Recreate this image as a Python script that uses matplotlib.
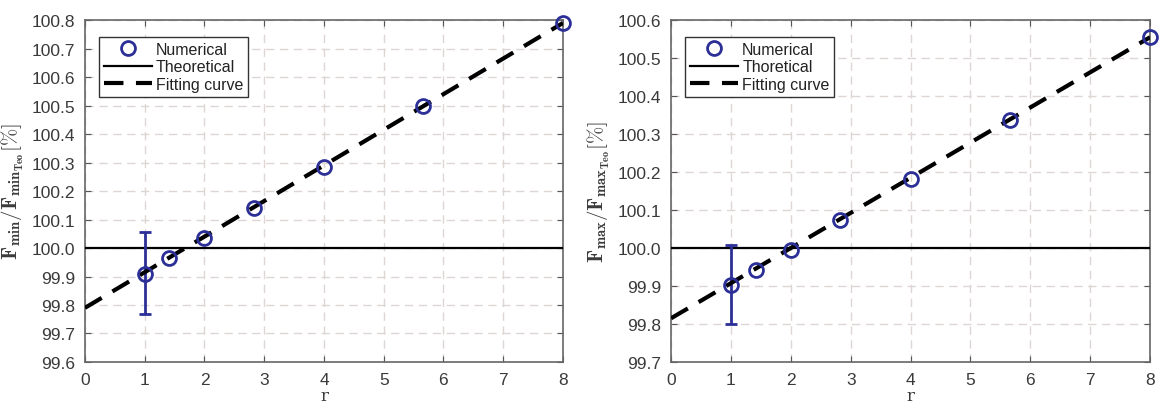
import numpy as np
import matplotlib
matplotlib.use("Agg")
import matplotlib.pyplot as plt

plt.rcParams['font.family'] = ['Liberation Sans', 'DejaVu Sans']
plt.rcParams['mathtext.fontset'] = 'cm'
plt.rcParams['lines.scale_dashes'] = False

# shared x positions of the numerical points
r = [1, 1.414, 2, 2.828, 4, 5.657, 8]

# left panel (F_min)
fmin_num = [99.91, 99.965, 100.035, 100.14, 100.285, 100.50, 100.79]
fmin_err_lo = 0.14
fmin_err_hi = 0.145
fmin_fit_x = [0, 8]
fmin_fit_y = [99.79, 100.79]

# right panel (F_max)
fmax_num = [99.903, 99.943, 99.995, 100.073, 100.182, 100.338, 100.555]
fmax_err_lo = 0.103
fmax_err_hi = 0.105
fmax_fit_x = [0, 8]
fmax_fit_y = [99.815, 100.555]

BLUE = '#2b2f96'
TXT = '#3a3a3a'
GRID = '#ddd6d3'


def draw_panel(ax, num, err_lo, err_hi, fit_x, fit_y, ylim, yticks, ylabel, theo_label):
    ax.errorbar([r[0]], [num[0]], yerr=[[err_lo], [err_hi]], fmt='none',
                ecolor=BLUE, elinewidth=2, capsize=4, capthick=2, zorder=4)
    ax.plot(r, num, 'o', mfc='none', mec=BLUE, mew=2, ms=10,
            label='Numerical', zorder=5, clip_on=False)
    ax.axhline(100.0, color='black', lw=1.6, label=theo_label, zorder=3)
    ax.plot(fit_x, fit_y, color='black', lw=3, dashes=(14, 9),
            label='Fitting curve', zorder=4)

    ax.set_xlim(0, 8)
    ax.set_ylim(*ylim)
    ax.set_xticks(range(9))
    ax.set_yticks(yticks)
    ax.set_yticklabels(['%.1f' % v for v in yticks])
    ax.grid(True, color=GRID, ls=(0, (6, 4)), lw=1)
    ax.set_axisbelow(True)
    ax.tick_params(direction='in', top=True, right=True, labelsize=12.5,
                   colors='#555555', labelcolor=TXT, length=4, pad=7)
    for s in ax.spines.values():
        s.set_color('#666666')
        s.set_linewidth(1.2)
    ax.set_xlabel('r', fontsize=12, color=TXT, labelpad=0, family='DejaVu Serif')
    ax.set_ylabel(ylabel, fontsize=15, color=TXT, labelpad=4)

    leg = ax.legend(loc='upper left', bbox_to_anchor=(0.03, 0.95), fontsize=11.5,
                    fancybox=False, framealpha=1, edgecolor='#333333',
                    handlelength=3.0, handletextpad=0.25, borderpad=0.3,
                    labelspacing=0.15, borderaxespad=0)
    leg.get_frame().set_linewidth(1.0)
    for t in leg.get_texts():
        t.set_color('#222222')


fig = plt.figure(figsize=(11.59, 4.06), dpi=100)
ax1 = fig.add_axes([0.0733, 0.106, 0.4124, 0.842])
ax2 = fig.add_axes([0.579, 0.106, 0.4133, 0.842])

draw_panel(ax1, fmin_num, fmin_err_lo, fmin_err_hi, fmin_fit_x, fmin_fit_y,
           (99.6, 100.8), np.round(np.arange(99.6, 100.81, 0.1), 1),
           r'$\mathbf{F_{min}/F_{min_{Teo}}}[\%]$', 'Theoretical')
draw_panel(ax2, fmax_num, fmax_err_lo, fmax_err_hi, fmax_fit_x, fmax_fit_y,
           (99.7, 100.6), np.round(np.arange(99.7, 100.61, 0.1), 1),
           r'$\mathbf{F_{max}/F_{max_{Teo}}}[\%]$', 'Thoretical')

fig.savefig('out.png', dpi=100)
